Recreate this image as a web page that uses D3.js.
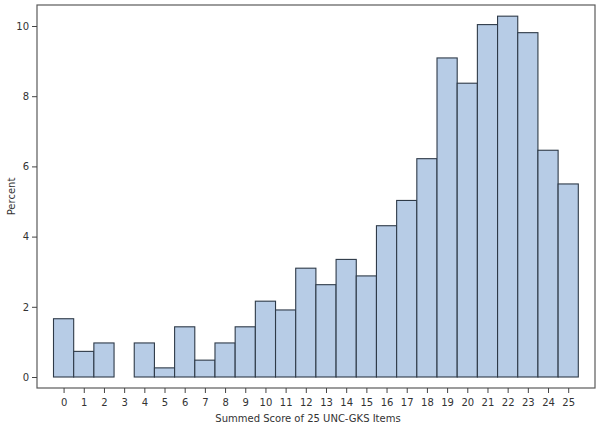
<!DOCTYPE html>
<html>
<head>
<meta charset="utf-8">
<script src="https://cdn.jsdelivr.net/npm/d3@7"></script>
<style>
  body { margin: 0; background: #fff; }
  text { font-family: "DejaVu Sans", Verdana, sans-serif; fill: #333; }
</style>
</head>
<body>
<div id="chart"></div>
<script>
// Summed score bins and percent of respondents
const scores = d3.range(0, 26);
const percents = [1.66, 0.73, 0.97, 0, 0.97, 0.26, 1.43, 0.48, 0.97, 1.43,
                  2.16, 1.91, 3.1, 2.63, 3.35, 2.88, 4.31, 5.03, 6.22, 9.09,
                  8.37, 10.04, 10.28, 9.81, 6.46, 5.5];
const yTicks = [0, 2, 4, 6, 8, 10];

const width = 600, height = 428;
const frame = { left: 37, top: 5, right: 595, bottom: 388 };

const svg = d3.select('#chart')
    .append('svg')
    .attr('width', width)
    .attr('height', height);

// x: one unit per score, bar centred on its tick
const x = d3.scaleLinear()
    .domain([-0.5, 25.5])
    .range([53.5, 578.3]);

const y = d3.scaleLinear()
    .domain([0, 10])
    .range([377, 26]);

// frame
svg.append('rect')
    .attr('x', frame.left)
    .attr('y', frame.top)
    .attr('width', frame.right - frame.left)
    .attr('height', frame.bottom - frame.top)
    .attr('fill', 'none')
    .attr('stroke', '#5a5a5a')
    .attr('stroke-width', 1.2);

// bars
svg.selectAll('.bar')
    .data(scores.filter(s => percents[s] > 0))
    .enter()
    .append('rect')
    .attr('class', 'bar')
    .attr('x', d => x(d - 0.5))
    .attr('y', d => y(percents[d]))
    .attr('width', x(1) - x(0))
    .attr('height', d => y(0) - y(percents[d]))
    .attr('fill', '#b7cce6')
    .attr('stroke', '#2e3a48')
    .attr('stroke-width', 1.1);

// y axis
const yAxis = svg.append('g')
    .attr('transform', `translate(${frame.left},0)`)
    .call(d3.axisLeft(y).tickValues(yTicks).tickSize(5).tickPadding(3));
yAxis.select('.domain').remove();
yAxis.selectAll('line').attr('stroke', '#444');
yAxis.selectAll('text').style('font-size', '10px').attr('fill', '#333');

// x axis
const xAxis = svg.append('g')
    .attr('transform', `translate(0,${frame.bottom})`)
    .call(d3.axisBottom(x).tickValues(scores).tickFormat(d3.format('d')).tickSize(5).tickPadding(6));
xAxis.select('.domain').remove();
xAxis.selectAll('line').attr('stroke', '#444');
xAxis.selectAll('text').style('font-size', '10px').attr('fill', '#333');

// titles
svg.append('text')
    .attr('x', 308)
    .attr('y', 422)
    .attr('text-anchor', 'middle')
    .style('font-size', '10px')
    .text('Summed Score of 25 UNC-GKS Items');

svg.append('text')
    .attr('transform', `translate(15,${(frame.top + frame.bottom) / 2}) rotate(-90)`)
    .attr('text-anchor', 'middle')
    .style('font-size', '10px')
    .text('Percent');
</script>
</body>
</html>
